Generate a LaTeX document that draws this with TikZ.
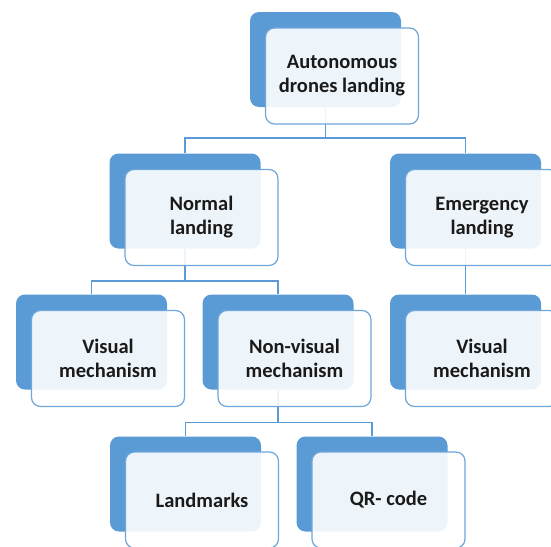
\documentclass[tikz,border=0pt]{standalone}
\usepackage{fontspec}
\setmainfont{Carlito}
\definecolor{bluebox}{HTML}{5B9BD5}
\definecolor{frontline}{HTML}{6FA6DA}
\definecolor{txt}{HTML}{1A1A1A}
\begin{document}
\begin{tikzpicture}[x=1pt,y=-1pt,
  back/.style={draw=none,fill=bluebox,rounded corners=9pt,minimum width=151pt,minimum height=95pt,inner sep=0pt},
  front/.style={draw=frontline,line width=1.2pt,fill=white,fill opacity=0.9,text opacity=1,rounded corners=9pt,
    minimum width=153pt,minimum height=96pt,inner sep=0pt,align=center,text=txt,
    font=\fontsize{20.5pt}{24pt}\selectfont\bfseries},
  conn/.style={draw=bluebox,line width=1.5pt}]
\clip (0,0) rectangle (551,546);
% back boxes
\node[back] (b1) at (325.5,59.5) {};
\node[back] (b2) at (185,201) {};
\node[back] (b3) at (465.5,201) {};
\node[back] (b4) at (91.5,342) {};
\node[back] (b5) at (278,342) {};
\node[back] (b6) at (465.5,342) {};
\node[back] (b7) at (185.5,484) {};
\node[back] (b8) at (372,484) {};
% connectors
\draw[conn] (b1.south) -- ++(0,31) -| (b2.north);
\draw[conn] (b1.south) -- ++(0,31) -| (b3.north);
\draw[conn] (b2.south) -- ++(0,32.5) -| (b4.north);
\draw[conn] (b2.south) -- ++(0,32.5) -| (b5.north);
\draw[conn] (b3.south) -- (b6.north);
\draw[conn] (b5.south) -- ++(0,33) -| (b7.north);
\draw[conn] (b5.south) -- ++(0,33) -| (b8.north);
% front boxes
\node[front] (f1) at (342,76) {Autonomous\\drones landing};
\node[front] (f2) at (201.5,217.5) {Normal\\landing};
\node[front] (f3) at (482,217.5) {Emergency\\landing};
\node[front] (f4) at (108,358.5) {Visual\\mechanism};
\node[front] (f5) at (294.5,358.5) {Non-visual\\mechanism};
\node[front] (f6) at (482,358.5) {Visual\\mechanism};
\node[front] (f7) at (202,500) {Landmarks};
\node[front] (f8) at (388.5,500) {QR- code};
\end{tikzpicture}
\end{document}
